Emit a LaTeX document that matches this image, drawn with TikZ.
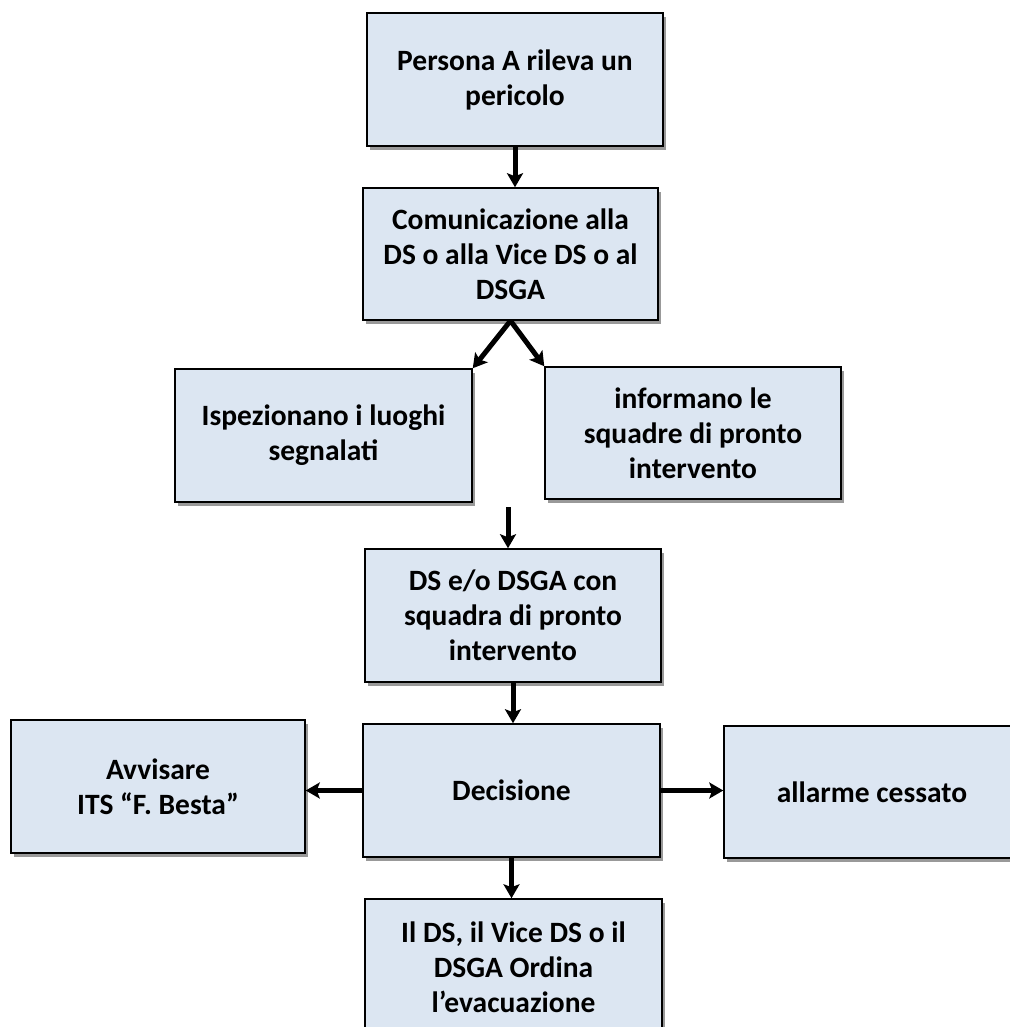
\documentclass[tikz,border=0pt]{standalone}
\usepackage{fontspec}
\setmainfont{Carlito}
\usetikzlibrary{arrows.meta,shadows,calc}
\definecolor{boxfill}{HTML}{DCE6F2}
\tikzset{
  flowbox/.style={draw=black, line width=1.5pt, fill=boxfill,
    drop shadow={shadow xshift=3pt, shadow yshift=-4pt, fill=black, opacity=0.4},
    align=center, inner sep=0pt,
    font=\bfseries\fontsize{29.5}{35}\selectfont},
  flowarrow/.style={line width=5pt, -{Stealth[length=14pt,width=16pt,inset=3pt]}}
}
\begin{document}
\begin{tikzpicture}[x=1pt,y=-1pt]
\useasboundingbox (0,0) rectangle (1009,1027);
\node[flowbox, minimum width=296pt, minimum height=133pt] (b1) at (515,79.5) {Persona A rileva un\\pericolo};
\node[flowbox, minimum width=295pt, minimum height=132pt] (b2) at (510.5,254) {Comunicazione alla\\DS o alla Vice DS o al\\DSGA};
\node[flowbox, minimum width=297pt, minimum height=133pt] (b3) at (323.5,435.5) {Ispezionano i luoghi\\segnalati};
\node[flowbox, minimum width=296pt, minimum height=132pt] (b4) at (693,433) {informano le\\squadre di pronto\\intervento};
\node[flowbox, minimum width=296pt, minimum height=133pt] (b5) at (513,615.5) {DS e/o DSGA con\\squadra di pronto\\intervento};
\node[flowbox, minimum width=297pt, minimum height=133pt] (b6) at (511.5,790.5) {Decisione};
\node[flowbox, minimum width=294pt, minimum height=133pt] (b7) at (158,786.5) {Avvisare\\ITS “F. Besta”};
\node[flowbox, minimum width=296pt, minimum height=132pt] (b8) at (872,792) {allarme cessato};
\node[flowbox, minimum width=297pt, minimum height=137pt] (b9) at (513.5,967.5) {Il DS, il Vice DS o il\\DSGA Ordina\\l’evacuazione};
\coordinate (gap) at (508,507);
\draw[flowarrow] (b1.south) -- (b1.south |- b2.north);
\draw[flowarrow] (b2.south) -- (b3.north east);
\draw[flowarrow] (b2.south) -- (b4.north west);
\draw[flowarrow] (gap) -- (gap |- b5.north);
\draw[flowarrow] (b5.south) -- (b5.south |- b6.north);
\draw[flowarrow] (b6.south) -- (b6.south |- b9.north);
\draw[flowarrow] (b6.west) -- (b6.west -| b7.east);
\draw[flowarrow] (b6.east) -- (b6.east -| b8.west);
\end{tikzpicture}
\end{document}
